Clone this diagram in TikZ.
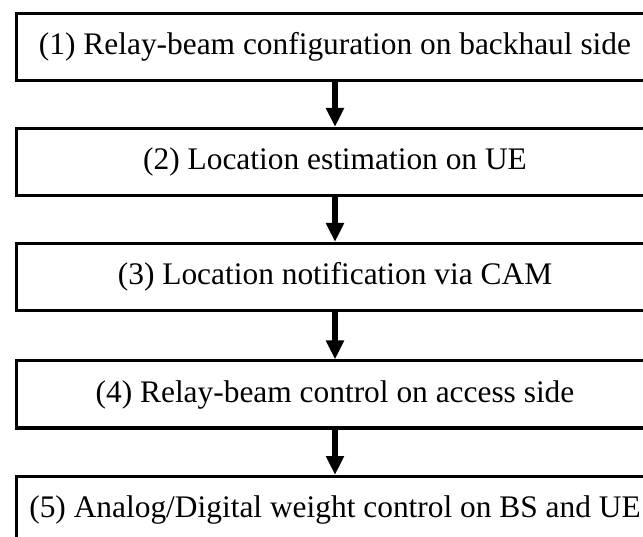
\documentclass[tikz,border=0pt]{standalone}
\usepackage{fontspec}
\setmainfont{Liberation Serif}
\usetikzlibrary{arrows.meta}
\begin{document}
\begin{tikzpicture}[x=1pt,y=1pt,
  stepbox/.style={draw=black,line width=3pt,rectangle,minimum width=637pt,minimum height=67pt,inner sep=0pt,
    font=\fontsize{31.4}{36}\selectfont},
  flow/.style={line width=5.5pt,-{Triangle[width=17pt,length=19pt]}}]
\useasboundingbox (0,0) rectangle (643,-537);
\clip (0,0) rectangle (643,-537);
\fill[white] (0,0) rectangle (643,-537);
\node[stepbox] (s1) at (335,-47) {(1) Relay-beam configuration on backhaul side};
\node[stepbox] (s2) at (335,-162) {(2) Location estimation on UE};
\node[stepbox] (s3) at (335,-277) {(3) Location notification via CAM};
\node[stepbox] (s4) at (335,-394.5) {(4) Relay-beam control on access side};
\node[stepbox] (s5) at (335,-510) {(5) Analog/Digital weight control on BS and UE};
\draw[flow] (s1.south) -- (s2.north);
\draw[flow] (s2.south) -- (s3.north);
\draw[flow] (s3.south) -- (s4.north);
\draw[flow] (s4.south) -- (s5.north);
\end{tikzpicture}
\end{document}
